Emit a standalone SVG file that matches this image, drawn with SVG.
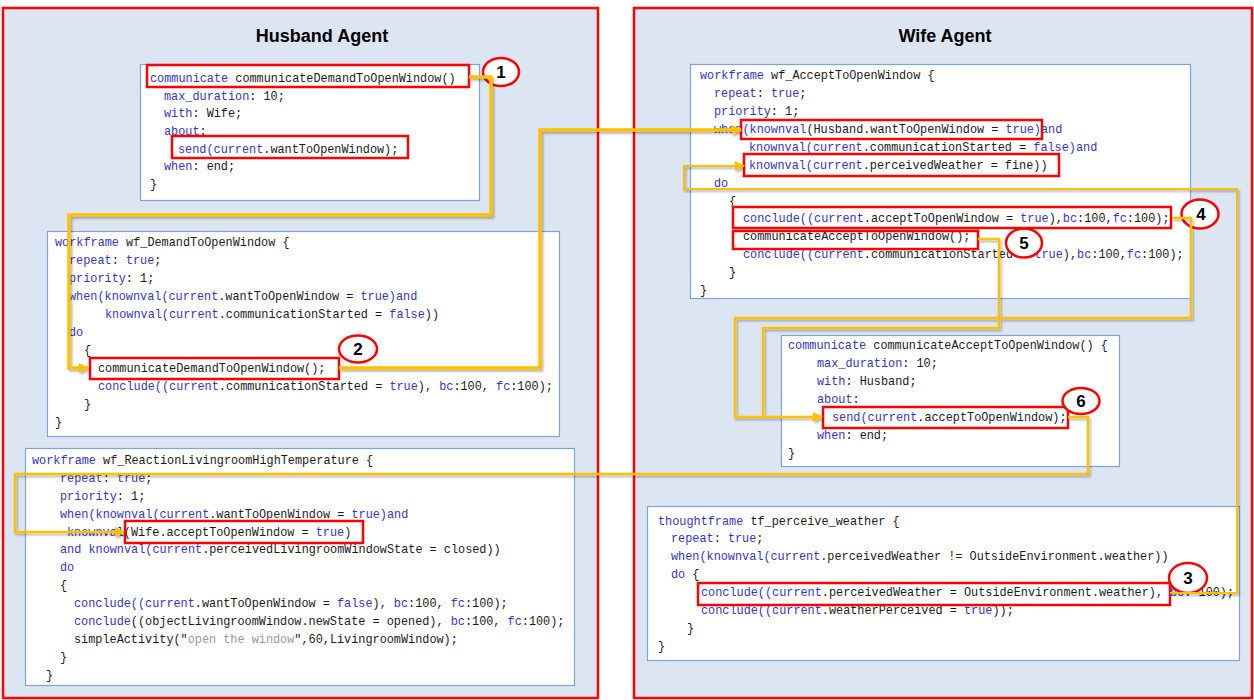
<svg xmlns="http://www.w3.org/2000/svg" width="1254" height="700" viewBox="0 0 1254 700">
<style>
.p{fill:#dce6f2;stroke:#ff0000;stroke-width:2.5}
.b{fill:#ffffff;stroke:#7fa3d9;stroke-width:1.2}
.hl{fill:none;stroke:#ff0000;stroke-width:2.5}
.t{font-family:"Liberation Mono","Courier New",monospace;font-size:11.85px;fill:#1a1a1a}
.k{fill:#3434c8}
.g{fill:#9a9a9a}
.ttl{font-family:"Liberation Sans",Arial,sans-serif;font-weight:bold;font-size:18px;fill:#000;text-anchor:middle}
.c{fill:#ffffff;stroke:#ff0000;stroke-width:2.5}
.n{font-family:"Liberation Sans",Arial,sans-serif;font-weight:bold;font-size:17px;fill:#000;text-anchor:middle}
.w{fill:none;stroke:#ffc000;stroke-linejoin:miter}
</style>
<defs>
<marker id="ah" viewBox="0 0 10 10" refX="9" refY="5" markerWidth="10" markerHeight="10" markerUnits="userSpaceOnUse" orient="auto">
<path d="M0,0 L10,5 L0,10 Z" fill="#ffc000"/>
</marker>
<filter id="sh" x="-5%" y="-5%" width="110%" height="110%">
<feDropShadow dx="1.5" dy="2" stdDeviation="1.2" flood-color="#000" flood-opacity="0.3"/>
</filter>
</defs>

<rect class="p" x="3" y="8" width="595" height="690"/>
<rect class="p" x="634" y="8" width="618" height="690"/>
<text class="ttl" x="322" y="42">Husband Agent</text>
<text class="ttl" x="945" y="42">Wife Agent</text>

<g id="communicateDemandToOpenWindow">
<rect class="b" x="140.5" y="64.5" width="339" height="136"/>
<text class="t" x="150" y="82"><tspan class="k">communicate</tspan> communicateDemandToOpenWindow()</text>
<text class="t" x="164" y="99.5"><tspan class="k">max_duration</tspan>: 10;</text>
<text class="t" x="164" y="117"><tspan class="k">with</tspan>: Wife;</text>
<text class="t" x="164" y="135"><tspan class="k">about</tspan>:</text>
<text class="t" x="178" y="152.5"><tspan class="k">send(current</tspan>.wantToOpenWindow);</text>
<text class="t" x="164" y="170"><tspan class="k">when</tspan>: end;</text>
<text class="t" x="150" y="187.5">}</text>
<rect class="hl" x="147" y="65" width="322" height="22"/>
<rect class="hl" x="172" y="136" width="236" height="22"/>
</g>

<g id="wf_DemandToOpenWindow">
<rect class="b" x="47.5" y="231.5" width="512" height="205"/>
<text class="t" x="55" y="246"><tspan class="k">workframe</tspan> wf_DemandToOpenWindow {</text>
<text class="t" x="69" y="264"><tspan class="k">repeat</tspan>: <tspan class="k">true</tspan>;</text>
<text class="t" x="69" y="282"><tspan class="k">priority</tspan>: 1;</text>
<text class="t" x="69" y="300"><tspan class="k">when(knownval(current</tspan>.wantToOpenWindow = <tspan class="k">true)and</tspan></text>
<text class="t" x="105" y="318"><tspan class="k">knownval(current</tspan>.communicationStarted = <tspan class="k">false</tspan>))</text>
<text class="t" x="69" y="336"><tspan class="k">do</tspan></text>
<text class="t" x="84" y="354">{</text>
<text class="t" x="98" y="372">communicateDemandToOpenWindow();</text>
<text class="t" x="98" y="390"><tspan class="k">conclude((current</tspan>.communicationStarted = <tspan class="k">true</tspan>), <tspan class="k">bc</tspan>:100, <tspan class="k">fc</tspan>:100);</text>
<text class="t" x="84" y="408">}</text>
<text class="t" x="55" y="426">}</text>
<rect class="hl" x="90" y="358" width="249" height="21"/>
</g>

<g id="wf_ReactionLivingroomHighTemperature">
<rect class="b" x="25.5" y="448.5" width="549" height="237"/>
<text class="t" x="32" y="464"><tspan class="k">workframe</tspan> wf_ReactionLivingroomHighTemperature {</text>
<text class="t" x="60" y="482"><tspan class="k">repeat</tspan>: <tspan class="k">true</tspan>;</text>
<text class="t" x="60" y="500"><tspan class="k">priority</tspan>: 1;</text>
<text class="t" x="60" y="518"><tspan class="k">when(knownval(current</tspan>.wantToOpenWindow = <tspan class="k">true)and</tspan></text>
<text class="t" x="67" y="536"><tspan class="k">knownval</tspan>(Wife.acceptToOpenWindow = <tspan class="k">true</tspan>)</text>
<text class="t" x="60" y="553"><tspan class="k">and knownval(current</tspan>.perceivedLivingroomWindowState = closed))</text>
<text class="t" x="60" y="571"><tspan class="k">do</tspan></text>
<text class="t" x="60" y="589">{</text>
<text class="t" x="74" y="607"><tspan class="k">conclude((current</tspan>.wantToOpenWindow = <tspan class="k">false</tspan>), <tspan class="k">bc</tspan>:100, <tspan class="k">fc</tspan>:100);</text>
<text class="t" x="74" y="625"><tspan class="k">conclude</tspan>((objectLivingroomWindow.newState = opened), <tspan class="k">bc</tspan>:100, <tspan class="k">fc</tspan>:100);</text>
<text class="t" x="74" y="643">simpleActivity("<tspan class="g">open the window</tspan>",60,LivingroomWindow);</text>
<text class="t" x="60" y="661">}</text>
<text class="t" x="46" y="679">}</text>
<rect class="hl" x="125" y="521" width="238" height="22"/>
</g>

<g id="wf_AcceptToOpenWindow">
<rect class="b" x="690.5" y="64.5" width="500" height="234"/>
<text class="t" x="700" y="78.5"><tspan class="k">workframe</tspan> wf_AcceptToOpenWindow {</text>
<text class="t" x="714" y="96.5"><tspan class="k">repeat</tspan>: <tspan class="k">true</tspan>;</text>
<text class="t" x="714" y="114.5"><tspan class="k">priority</tspan>: 1;</text>
<text class="t" x="714" y="132.5"><tspan class="k">when(knownval</tspan>(Husband.wantToOpenWindow = <tspan class="k">true)and</tspan></text>
<text class="t" x="749" y="150.5"><tspan class="k">knownval(current</tspan>.communicationStarted = <tspan class="k">false)and</tspan></text>
<text class="t" x="749" y="168.5"><tspan class="k">knownval(current</tspan>.perceivedWeather = fine))</text>
<text class="t" x="714" y="186.5"><tspan class="k">do</tspan></text>
<text class="t" x="729" y="204.5">{</text>
<text class="t" x="743" y="221.5"><tspan class="k">conclude((current</tspan>.acceptToOpenWindow = <tspan class="k">true</tspan>),<tspan class="k">bc</tspan>:100,<tspan class="k">fc</tspan>:100);</text>
<text class="t" x="743" y="240">communicateAcceptToOpenWindow();</text>
<text class="t" x="743" y="257.5"><tspan class="k">conclude((current</tspan>.communicationStarted = <tspan class="k">true</tspan>),<tspan class="k">bc</tspan>:100,<tspan class="k">fc</tspan>:100);</text>
<text class="t" x="729" y="275.5">}</text>
<text class="t" x="700" y="293.5">}</text>
<rect class="hl" x="741" y="120" width="301" height="19"/>
<rect class="hl" x="744" y="154" width="315" height="22"/>
<rect class="hl" x="733" y="207" width="438" height="21"/>
<rect class="hl" x="733" y="231" width="245" height="18"/>
</g>

<g id="communicateAcceptToOpenWindow">
<rect class="b" x="781.5" y="335.5" width="338" height="131"/>
<text class="t" x="788" y="348.5"><tspan class="k">communicate</tspan> communicateAcceptToOpenWindow() {</text>
<text class="t" x="817" y="366.5"><tspan class="k">max_duration</tspan>: 10;</text>
<text class="t" x="817" y="384.5"><tspan class="k">with</tspan>: Husband;</text>
<text class="t" x="817" y="402.5"><tspan class="k">about</tspan>:</text>
<text class="t" x="832" y="420.5"><tspan class="k">send(current</tspan>.acceptToOpenWindow);</text>
<text class="t" x="817" y="438.5"><tspan class="k">when</tspan>: end;</text>
<text class="t" x="788" y="456.5">}</text>
<rect class="hl" x="823" y="407" width="245" height="21"/>
</g>

<g id="tf_perceive_weather">
<rect class="b" x="647.5" y="506.5" width="592" height="154"/>
<text class="t" x="658" y="524.5"><tspan class="k">thoughtframe</tspan> tf_perceive_weather {</text>
<text class="t" x="671" y="541.5"><tspan class="k">repeat</tspan>: <tspan class="k">true</tspan>;</text>
<text class="t" x="671" y="559.5"><tspan class="k">when(knownval(current</tspan>.perceivedWeather != OutsideEnvironment.weather))</text>
<text class="t" x="671" y="577.5"><tspan class="k">do</tspan> {</text>
<text class="t" x="701" y="595.5"><tspan class="k">conclude((current</tspan>.perceivedWeather = OutsideEnvironment.weather), <tspan class="k">bc</tspan>: 100);</text>
<text class="t" x="701" y="613.5"><tspan class="k">conclude((current</tspan>.weatherPerceived = <tspan class="k">true</tspan>));</text>
<text class="t" x="687" y="631.5">}</text>
<text class="t" x="658" y="649.5">}</text>
<rect class="hl" x="698" y="583" width="472" height="22"/>
</g>

<g id="step1"><ellipse class="c" cx="501" cy="72" rx="18" ry="14"/><text class="n" x="501" y="78">1</text></g>
<g id="step2"><ellipse class="c" cx="358" cy="349" rx="19" ry="13.5"/><text class="n" x="358" y="355">2</text></g>
<g id="step3"><ellipse class="c" cx="1188" cy="578" rx="19" ry="15"/><text class="n" x="1188" y="584">3</text></g>
<g id="step4"><ellipse class="c" cx="1200" cy="214" rx="18.5" ry="14.5"/><text class="n" x="1201" y="220">4</text></g>
<g id="step5"><ellipse class="c" cx="1024" cy="243" rx="18" ry="14.5"/><text class="n" x="1024" y="249">5</text></g>
<g id="step6"><ellipse class="c" cx="1081" cy="401" rx="18.5" ry="13"/><text class="n" x="1081" y="407">6</text></g>

<g id="connectors" filter="url(#sh)">
<polyline class="w" stroke-width="3.5" points="469,77 491,77 491,215 69,215 69,368 88,368" marker-end="url(#ah)"/>
<polyline class="w" stroke-width="3.5" points="339,368 540,368 540,130 741,130" marker-end="url(#ah)"/>
<polyline class="w" stroke-width="2" points="1170,593 1237,593 1237,189 684,189 684,166 744,166" marker-end="url(#ah)"/>
<polyline class="w" stroke-width="2.5" points="1172,218 1191,218 1191,318 735,318 735,417 822,417" marker-end="url(#ah)"/>
<polyline class="w" stroke-width="2.5" points="978,239 999,239 999,328 763,328 763,417"/>
<polyline class="w" stroke-width="2.5" points="1068,417 1088,417 1088,474 15,474 15,532 124,532" marker-end="url(#ah)"/>
</g>
</svg>
